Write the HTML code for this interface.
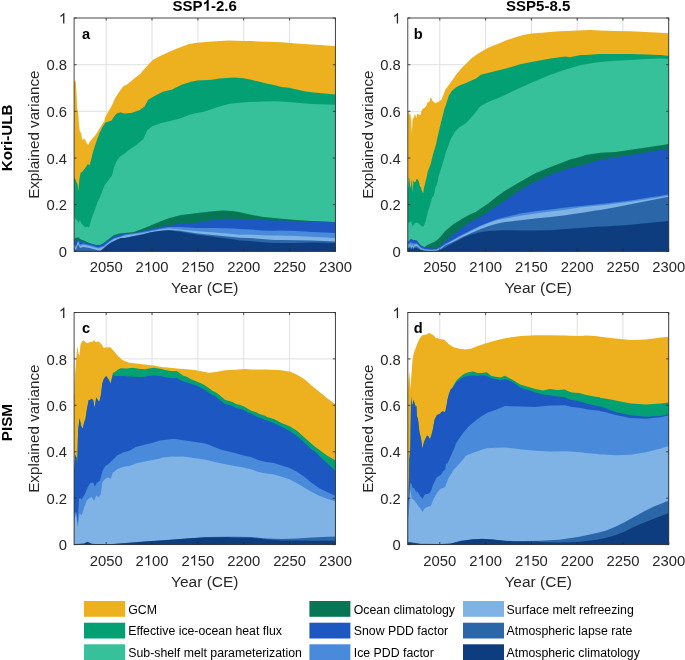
<!DOCTYPE html><html><head><meta charset="utf-8"><style>html,body{margin:0;padding:0;background:#fff;}svg{display:block;will-change:transform;}text{font-family:"Liberation Sans",sans-serif;}</style></head><body>
<svg width="685" height="660" viewBox="0 0 685 660">
<rect width="685" height="660" fill="#fff"/>
<defs>
<path id="one" d="M763 0L583 0L583 1147Q518 1085 412 1023Q306 961 222 930L222 1104Q373 1175 486 1276Q599 1377 646 1472L763 1472Z"/>
<path id="oneb" d="M834 0L553 0L553 1059Q399 915 190 846L190 1101Q300 1137 429 1238Q558 1338 606 1472L834 1472Z"/>
<clipPath id="cpa"><rect x="74.1" y="18.0" width="261.3" height="233.3"/></clipPath>
<clipPath id="cpb"><rect x="407.8" y="18.0" width="260.9" height="233.3"/></clipPath>
<clipPath id="cpc"><rect x="74.1" y="312.5" width="261.3" height="232.1"/></clipPath>
<clipPath id="cpd"><rect x="407.8" y="312.5" width="260.9" height="232.1"/></clipPath>
</defs>
<path d="M106.2 18V251.3M152 18V251.3M197.9 18V251.3M243.7 18V251.3M289.6 18V251.3M335.4 18V251.3M74.1 204.6H335.4M74.1 158H335.4M74.1 111.3H335.4M74.1 64.7H335.4" stroke="#e0e0e0" stroke-width="1" fill="none"/>
<g clip-path="url(#cpa)">
<path d="M73.2 252.3L73.2 82.1L74.2 82.1L75.6 80.3L76.6 94.2L77.1 108.7L78 111.1L79 124.4L79.9 131.7L81.1 132.9L82.3 140.2L84.1 138.3L85.3 140.2L87.1 143.8L88.3 145L89.5 142L92 139L94.4 136.5L96.8 132.9L99.8 128.1L102 124.4L104.3 121.2L105 117.6L108.8 110.8L111.9 105.5L114.9 98.6L118.7 92.6L122.5 87.3L124 85.8L126.3 85L131.3 80.9L136.1 77L140.7 73.6L142.2 71.2L145.2 68.3L149.8 63L152.8 60L160 55.9L174 49.8L181.6 46.8L189.2 44.1L197.5 42.7L211.9 41.5L228.5 40.4L243.7 41L251.2 41L258.8 41.5L266.3 41.8L274 41.9L281.5 42.2L296.6 43.5L311.8 44.5L326.9 45.6L335.6 46L336.6 46L336.6 252.3Z" fill="#EDB120"/>
<path d="M73.2 252.3L73.2 178L74.2 178L75 177.9L76.2 181.5L77.5 183.9L78.3 191.2L79.3 180.3L80.5 173L82.3 171.8L84.1 169.4L85.9 167L87.8 163.9L89.6 165.2L91.4 158.5L93.2 151.2L94.6 146.7L97.1 139.4L99.5 133.3L103.1 126L105.6 122.4L111.6 120.6L113.4 117.6L116.4 113.8L120.2 112.3L124 113.6L131.3 113L139.8 110L144.6 106.4L148.2 99.7L155.5 95.5L162.8 91.8L172.5 89.4L174 88.5L182.2 84.5L191.9 81.5L197.5 80.4L211.9 79.8L219.5 78.6L234.6 77.5L243.6 78.3L251.2 79.8L258.7 81.6L266.3 83.5L273.9 85L281.5 86.9L289 87.7L296.6 89.5L304.2 91.2L311.8 92.2L319.3 93L326.9 93.8L335.6 94.5L336.6 94.5L336.6 252.3Z" fill="#02A072"/>
<path d="M73.2 252.3L73.2 216L74.2 216L75 217.9L76.8 220.3L78.7 222.7L79.9 219.7L81.7 223.9L83.5 225.8L85.3 227.6L87.2 226.4L89 227.6L90.8 221.5L92.6 215.5L95 209.4L97.5 202.1L99.9 197.3L102.3 191.2L104.7 185.2L108.4 180.3L112 175.5L114 167.3L116.5 161.3L120.1 156.4L124 154L128.8 150L136.1 145.2L143.4 139.1L147 130.6L151.9 126.4L160.4 123.3L170.1 120.9L179.8 118.5L189.5 114.8L196.7 113L204 111.8L216.4 107.4L228.5 104.1L239.2 102.8L249.8 102.1L261.9 101.6L274 101.3L281.5 101.6L296.6 102.8L311.8 104.1L326.9 104.4L335.6 104.7L336.6 104.7L336.6 252.3Z" fill="#36C19A"/>
<path d="M73.2 252.3L73.2 239L74.2 239L75.5 238.1L78.1 237.3L80.8 239.5L83.4 240.3L89.5 243L94.8 244.7L100 245L103.5 243L108.8 239L114 235.1L119.3 233.6L125 232.9L133.8 231.9L142.5 228.8L151.3 225.3L160 221.4L168.8 218.3L180 215.3L197.5 212.9L215 211L223.8 210.4L232.6 211.1L240 212.2L249.8 214.4L261.9 216.8L274 217.9L281.5 218.7L296.6 219.9L311.8 221L335.6 222L336.6 222L336.6 252.3Z" fill="#077654"/>
<path d="M73.2 252.3L73.2 241L74.2 241L75.5 240.3L80.8 241.2L89.5 243.8L98.3 245.6L103.5 243.8L108.8 239.9L114 236.4L121 234.6L125 233.6L133.8 232.9L142.5 231L151.3 228.8L160 227.1L168.8 225.3L180 223.8L197.5 222.5L206.3 221.2L215 219.7L223.8 218.8L232.6 218.8L240 219.2L249.8 219.1L261.9 219.9L274 220.5L281.5 220.5L296.6 220.9L311.8 221.4L335.6 222.2L336.6 222.2L336.6 252.3Z" fill="#1D58C2"/>
<path d="M73.2 252.3L73.2 244L74.2 244L75.9 246.5L78.1 240.5L79.9 244.5L83.4 243.5L89.5 245L98.3 247.5L103.5 246L108.8 241.8L114 238.3L121 236.2L125 234.5L142.5 231.9L160 228.4L168.8 227.1L180 226.9L197.5 227.9L215 227.9L232.6 228.5L240 229.1L249.8 229.6L261.9 230.5L274 230.8L281.5 230.5L296.6 231.1L311.8 232L335.6 233.1L336.6 233.1L336.6 252.3Z" fill="#4A8ADA"/>
<path d="M73.2 252.3L73.2 245L74.2 245L75.9 248.6L78.1 241.2L79.9 246L83.4 244.7L89.5 246L98.3 248.5L103.5 246.9L108.8 242.5L114 239L121 236.8L125 235.4L142.5 233L160 229.4L168.8 228.4L180 229.5L197.5 231.3L215 232.6L232.6 233.9L240 234.8L249.8 234.6L261.9 235.3L274 235.6L281.5 235.6L296.6 236.1L311.8 236.8L335.6 238.1L336.6 238.1L336.6 252.3Z" fill="#7FB2E5"/>
<path d="M73.2 252.3L73.2 248L74.2 248L75.9 250L78.1 244L79.9 248L83.4 247L89.5 248L98.3 250.5L101 250.5L103.5 248.3L107 245.3L110.5 242.8L115.8 240L121 237.9L125 237.8L133.8 236.1L142.5 234.3L151.3 232.1L160 230.8L168.8 230.1L180 230.8L197.5 233.5L215 235.2L232.6 237L240 237.8L249.8 238.1L261.9 239.1L274 239.9L281.5 239.9L296.6 240.2L311.8 240.6L335.6 241.4L336.6 241.4L336.6 252.3Z" fill="#2A66A8"/>
<path d="M73.2 252.3L73.2 251.5L74.2 251.5L100 251.5L100.9 250.4L103.5 248.6L107 245.6L110.5 243L115.8 240.3L121 238.1L125 238L133.8 236.3L142.5 234.5L151.3 232.3L160 231L168.8 230.3L180 231.7L197.5 234.8L215 237L232.6 239.2L240 240.5L249.8 241.1L261.9 242.2L274 242.9L281.5 242.9L296.6 242.9L311.8 242.6L335.6 242.9L336.6 242.9L336.6 252.3Z" fill="#0D3D7E"/>
</g>
<path d="M106.2 251.3v-2.6M106.2 18v2.6M152 251.3v-2.6M152 18v2.6M197.9 251.3v-2.6M197.9 18v2.6M243.7 251.3v-2.6M243.7 18v2.6M289.6 251.3v-2.6M289.6 18v2.6M335.4 251.3v-2.6M335.4 18v2.6M74.1 251.3h2.6M335.4 251.3h-2.6M74.1 204.6h2.6M335.4 204.6h-2.6M74.1 158h2.6M335.4 158h-2.6M74.1 111.3h2.6M335.4 111.3h-2.6M74.1 64.7h2.6M335.4 64.7h-2.6M74.1 18h2.6M335.4 18h-2.6" stroke="#262626" stroke-width="0.8" fill="none"/>
<rect x="74.1" y="18.0" width="261.3" height="233.3" fill="none" stroke="#333" stroke-width="0.9"/>
<text x="106.2" y="272.3" font-size="14.8" fill="#262626" text-anchor="middle">2050</text>
<text x="135.57" y="272.3" font-size="14.8" fill="#262626" style="font-kerning:none">2</text><use href="#one" fill="#262626" transform="translate(143.80 272.3) scale(0.00723 -0.00723)"/><text x="152.03" y="272.3" font-size="14.8" fill="#262626" style="font-kerning:none">00</text>
<text x="181.41" y="272.3" font-size="14.8" fill="#262626" style="font-kerning:none">2</text><use href="#one" fill="#262626" transform="translate(189.64 272.3) scale(0.00723 -0.00723)"/><text x="197.87" y="272.3" font-size="14.8" fill="#262626" style="font-kerning:none">50</text>
<text x="243.7" y="272.3" font-size="14.8" fill="#262626" text-anchor="middle">2200</text>
<text x="289.6" y="272.3" font-size="14.8" fill="#262626" text-anchor="middle">2250</text>
<text x="335.4" y="272.3" font-size="14.8" fill="#262626" text-anchor="middle">2300</text>
<text x="67.1" y="256.9" font-size="14.8" fill="#262626" text-anchor="end">0</text>
<text x="67.1" y="210.2" font-size="14.8" fill="#262626" text-anchor="end">0.2</text>
<text x="67.1" y="163.6" font-size="14.8" fill="#262626" text-anchor="end">0.4</text>
<text x="67.1" y="116.9" font-size="14.8" fill="#262626" text-anchor="end">0.6</text>
<text x="67.1" y="70.3" font-size="14.8" fill="#262626" text-anchor="end">0.8</text>
<use href="#one" fill="#262626" transform="translate(58.87 23.6) scale(0.00723 -0.00723)"/>
<text x="204.8" y="293.3" font-size="15.5" fill="#262626" text-anchor="middle">Year (CE)</text>
<text transform="translate(38.8 134.7) rotate(-90)" font-size="15.2" fill="#262626" text-anchor="middle">Explained variance</text>
<text x="82.1" y="38.8" font-size="14.6" font-weight="bold" fill="#000">a</text>
<path d="M439.8 18V251.3M485.6 18V251.3M531.4 18V251.3M577.2 18V251.3M622.9 18V251.3M668.7 18V251.3M407.8 204.6H668.7M407.8 158H668.7M407.8 111.3H668.7M407.8 64.7H668.7" stroke="#e0e0e0" stroke-width="1" fill="none"/>
<g clip-path="url(#cpb)">
<path d="M406.9 252.3L406.9 113L407.9 113L408.8 112.1L409.5 115L410.3 113.6L411.1 120L411.8 133.3L412.5 120L413.3 118.2L414.1 116.5L414.8 113.6L416.4 118.2L417.1 113.5L418.6 114.4L420.2 115.2L421.7 110.6L422.4 108.9L423.9 108.3L424.7 107.4L426.2 106.1L427.7 102.1L429.2 102.3L430.8 96.8L432.3 100.6L435.3 103.3L438.3 101.8L441.4 99.8L445.3 89.8L450.6 82.4L455.9 75L461.2 68.6L466.5 63.3L471.8 58L477.1 54.3L482.4 51.1L487.7 48L493 45.8L498.3 43.7L503.6 41.6L505 40.7L514.1 37.7L523.2 35L531.5 33.5L544.4 32.4L559.5 31.3L577.7 30.4L589.8 30.1L600.3 30.4L615.5 30.9L630.6 31.3L645.8 31.9L660.9 32.7L668.8 33.2L669.8 33.2L669.8 252.3Z" fill="#EDB120"/>
<path d="M406.9 252.3L406.9 185L407.9 185L408.3 187.9L408.8 177.8L409.5 178.8L410.3 188.4L411.1 184.8L411.8 179.3L412.6 192.9L413.3 180L414.1 182.3L415.6 181.8L416.4 179.3L417.1 178.8L418.6 181L420.2 187.1L420.9 186.8L421.4 189.4L422.9 193.2L423.2 192.9L423.9 187.9L424.7 185.3L425.5 181.8L427 175.8L427.7 171.7L428.5 169.7L430.8 163.6L433 154.5L436.1 143.9L439.1 130.3L442.1 118.2L444.4 109.1L445.9 105L447.4 100L448.9 95.5L452 90.7L456.5 86.9L461.1 84.7L465.6 83.2L470.2 80.9L476.2 78.6L480.8 74.8L486.8 73.3L492.9 71.8L498.9 70.3L505 68.8L520.2 64.2L535.3 61.2L550.5 58.6L565.6 56.6L570 57.2L580.8 55L585.2 55.1L600.3 54.1L615.5 54.1L630.6 54.1L645.8 54.4L660.9 55.1L668.8 55.9L669.8 55.9L669.8 252.3Z" fill="#02A072"/>
<path d="M406.9 252.3L406.9 222L407.9 222L408.8 223.2L411.1 220.9L412.6 226.2L414.8 223.2L417.1 222.5L420.2 224.7L423.2 227L425.5 221.7L427.7 212.6L430 205L432.3 197L433.8 195.9L435.3 188L437.6 182.3L438.3 177.3L441.4 167.5L444.4 157.6L445.9 152L447.4 148.5L450.5 139.4L455 131.8L459.5 127.3L465.6 123.5L473.2 115.2L479.2 107.4L480.8 106L486.8 102.8L492.9 100L495.9 99.1L505 95L520.2 87.7L535.3 80.9L550.5 74.8L565.6 69.5L580.8 65L595.9 62.4L605 61.6L615.5 60.7L630.6 60.1L645.8 58.9L660.9 58.6L668.8 58.9L669.8 58.9L669.8 252.3Z" fill="#36C19A"/>
<path d="M406.9 252.3L406.9 241.5L407.9 241.5L409 241.3L410.8 239.1L412.3 239.8L414.5 240.2L416.7 240.5L418.5 242.7L420.3 244.9L422.5 246.4L424.7 247.1L426.9 245.3L430.5 243.5L434.2 242L437.8 239.5L441.5 235.4L445 231.2L448.8 228.1L453.8 223.9L462.5 218.6L471.3 213.8L475.7 212.1L480 209L488.8 202.9L497.6 195.9L505 190.7L520.2 181.7L535.3 173.3L550.5 167L565.6 161.2L570 159.5L580.8 156.7L585.2 155L600.3 152.7L615.5 152L630.6 149.7L645.8 147.4L660.9 145.2L668.8 143.9L669.8 143.9L669.8 252.3Z" fill="#077654"/>
<path d="M406.9 252.3L406.9 241.5L407.9 241.5L409 241.3L410.8 239.1L412.3 239.8L414.5 240.2L416.7 240.5L418.5 242.7L420.3 244.9L422.5 246.4L424.7 247.3L430 248.2L435.7 248.6L440 246L445 241.4L448.8 238L453.8 234L462.5 227.4L471.3 221.3L480 217.3L488.8 211.6L497.6 205.5L505 200.5L520.2 190L535.3 181.7L550.5 174.8L565.6 169.2L570 168.3L580.8 165.5L585.2 164.3L595.9 161L600.3 159.8L615.5 157.3L630.6 155L645.8 152.4L660.9 149.7L668.8 148.2L669.8 148.2L669.8 252.3Z" fill="#1D58C2"/>
<path d="M406.9 252.3L406.9 243L407.9 243L409 243.5L410.8 242L412.3 243L414.5 243.5L416.7 243.2L418.5 245L420.3 247L422.5 248.3L424.7 249L430 249.5L435.7 249.6L440 247.5L445 244L453.8 239.2L462.5 234.4L471.3 230L480 225.7L488.8 222.2L497.6 219.1L505 217.3L520.2 213.5L535.3 211.2L550.5 209.4L565.6 207.4L580.8 205.9L595.9 204.4L605 203.6L615.5 202.3L630.6 200.4L645.8 198.1L660.9 195.8L668.8 194.3L669.8 194.3L669.8 252.3Z" fill="#4A8ADA"/>
<path d="M406.9 252.3L406.9 244L407.9 244L409 246L410 243L411 247L412.3 244L413.5 247L414.5 244.5L416.7 244.2L418.5 246L420.3 247.8L422.5 249L424.7 249.6L430 250L435.7 250.2L440 248.3L445 244.9L453.8 240.1L462.5 235.3L471.3 230.9L480 226.6L488.8 223L497.6 220L505 218.6L520.2 215.8L535.3 213.5L550.5 211.5L565.6 209.7L580.8 207.2L595.9 205.7L605 204.9L615.5 203.6L630.6 201.7L645.8 199.4L660.9 197.1L668.8 195.6L669.8 195.6L669.8 252.3Z" fill="#7FB2E5"/>
<path d="M406.9 252.3L406.9 247L407.9 247L409 248L410 245.5L411 249L412.3 246.5L413.5 248.5L414.5 246.5L416.7 246.3L418.5 247.5L420.3 249L422.5 250L424.7 250.5L430 251L435.7 251L440 249.5L445 245.4L453.8 241.4L462.5 237L471.3 233.1L480 229.2L488.8 226.1L497.6 223.5L505 222L520.2 220.3L535.3 218.5L550.5 217L565.6 215.2L570 214.6L580.8 213L585.2 212.3L595.9 210.6L600.3 209.9L615.5 207.3L630.6 204.2L645.8 201.2L660.9 198.2L668.8 196.7L669.8 196.7L669.8 252.3Z" fill="#2A66A8"/>
<path d="M406.9 252.3L406.9 248L407.9 248L409 249L410 247L411 250L412.3 248L413.5 249.5L414.5 248L416.7 248L418.5 249L420.3 250L424.7 251L436 251.2L440 250.3L445 247.5L449.4 245L453.8 242.7L462.5 237.9L471.3 234.4L480 232.2L488.8 230.9L497.6 230.5L505 230.2L520.2 230.6L535.3 230.6L550.5 230.2L565.6 229.1L580.8 227.9L595.9 226.7L605 226.4L630.6 224.7L660.9 221.7L668.8 220.9L669.8 220.9L669.8 252.3Z" fill="#0D3D7E"/>
</g>
<path d="M439.8 251.3v-2.6M439.8 18v2.6M485.6 251.3v-2.6M485.6 18v2.6M531.4 251.3v-2.6M531.4 18v2.6M577.2 251.3v-2.6M577.2 18v2.6M622.9 251.3v-2.6M622.9 18v2.6M668.7 251.3v-2.6M668.7 18v2.6M407.8 251.3h2.6M668.7 251.3h-2.6M407.8 204.6h2.6M668.7 204.6h-2.6M407.8 158h2.6M668.7 158h-2.6M407.8 111.3h2.6M668.7 111.3h-2.6M407.8 64.7h2.6M668.7 64.7h-2.6M407.8 18h2.6M668.7 18h-2.6" stroke="#262626" stroke-width="0.8" fill="none"/>
<rect x="407.8" y="18.0" width="260.9" height="233.3" fill="none" stroke="#333" stroke-width="0.9"/>
<text x="439.8" y="272.3" font-size="14.8" fill="#262626" text-anchor="middle">2050</text>
<text x="469.15" y="272.3" font-size="14.8" fill="#262626" style="font-kerning:none">2</text><use href="#one" fill="#262626" transform="translate(477.38 272.3) scale(0.00723 -0.00723)"/><text x="485.61" y="272.3" font-size="14.8" fill="#262626" style="font-kerning:none">00</text>
<text x="514.92" y="272.3" font-size="14.8" fill="#262626" style="font-kerning:none">2</text><use href="#one" fill="#262626" transform="translate(523.15 272.3) scale(0.00723 -0.00723)"/><text x="531.38" y="272.3" font-size="14.8" fill="#262626" style="font-kerning:none">50</text>
<text x="577.2" y="272.3" font-size="14.8" fill="#262626" text-anchor="middle">2200</text>
<text x="622.9" y="272.3" font-size="14.8" fill="#262626" text-anchor="middle">2250</text>
<text x="668.7" y="272.3" font-size="14.8" fill="#262626" text-anchor="middle">2300</text>
<text x="400.8" y="256.9" font-size="14.8" fill="#262626" text-anchor="end">0</text>
<text x="400.8" y="210.2" font-size="14.8" fill="#262626" text-anchor="end">0.2</text>
<text x="400.8" y="163.6" font-size="14.8" fill="#262626" text-anchor="end">0.4</text>
<text x="400.8" y="116.9" font-size="14.8" fill="#262626" text-anchor="end">0.6</text>
<text x="400.8" y="70.3" font-size="14.8" fill="#262626" text-anchor="end">0.8</text>
<use href="#one" fill="#262626" transform="translate(392.57 23.6) scale(0.00723 -0.00723)"/>
<text x="538.2" y="293.3" font-size="15.5" fill="#262626" text-anchor="middle">Year (CE)</text>
<text transform="translate(372.5 134.7) rotate(-90)" font-size="15.2" fill="#262626" text-anchor="middle">Explained variance</text>
<text x="413.8" y="38.8" font-size="14.6" font-weight="bold" fill="#000">b</text>
<path d="M106.2 312.5V544.6M152 312.5V544.6M197.9 312.5V544.6M243.7 312.5V544.6M289.6 312.5V544.6M335.4 312.5V544.6M74.1 498.2H335.4M74.1 451.8H335.4M74.1 405.3H335.4M74.1 358.9H335.4" stroke="#e0e0e0" stroke-width="1" fill="none"/>
<g clip-path="url(#cpc)">
<path d="M73.2 545.6L73.2 395L74.2 395L74.7 380.8L75.6 366.3L76.6 354.2L77.4 346.3L78.7 354.2L79.5 356L80.5 344.5L81.7 342.1L83.5 340.3L85.3 342.1L87.1 343.3L90.1 342.1L93.2 341.5L93.8 339.7L95.6 342.1L98.6 341.5L99.3 342L101.5 344.2L103.8 348L106.8 347.3L110.6 347.6L113.7 351.1L117.5 355.6L122 359.7L128.1 362.4L135.6 363.6L144.7 364.4L153.8 365.5L162.9 367.3L165 367.3L172.3 368L179.6 368.8L186.9 369.3L194.2 370.1L201.5 371.3L208.8 372.8L212.4 372.4L215 372L217.5 371.7L225 370.2L235.6 369.7L244.7 369.1L251.2 369.4L256.8 369.4L266.3 369.4L272 369.7L281.5 370.3L290.5 371.8L296.6 374.4L304.2 378.9L311.8 385.8L319.3 391.8L326.9 397.9L335.6 404.5L336.6 404.5L336.6 545.6Z" fill="#EDB120"/>
<path d="M73.2 545.6L73.2 470L74.2 470L75.3 454.5L76.5 457.6L77.3 463.6L78.1 430.3L79.6 418.2L81.1 425.8L82.6 428.8L84.1 422.7L85.6 418.5L86.4 412.1L87.2 407.9L88.7 400L89.4 400.3L91.7 398.8L93.2 400.3L94.7 407.9L96.2 397.3L97.8 400.3L99.3 401.8L100.8 395.8L102.3 383.6L103.8 379.1L106.1 376.1L108.4 379.1L110.6 383.6L112.9 373L114.4 372.3L117.5 370L120.5 368.2L126.5 368.5L132.6 367.7L138.7 368.8L144.7 369.2L153.8 367.7L162.9 369.2L165 369.9L172.3 371.3L176.7 370.9L179.6 373.1L183.2 375.7L186.9 376.8L190.5 379L194.2 380.4L197.8 381.9L201.5 383.4L205.1 385.5L208.8 388.1L212.4 390.7L215 392.1L217.5 393.6L225 399.7L232.6 402L236 403.9L240.2 405L243.6 406.2L247.8 408.8L251.2 410.8L256.8 412.6L258.7 413.8L265.9 416.1L266.3 416.8L273.9 419.1L281.5 422.9L289 425.9L296.6 430.5L304.2 437.3L311.8 444.1L314.8 446.5L320.8 451.1L326.9 455.6L335.6 460.5L336.6 460.5L336.6 545.6Z" fill="#02A072"/>
<path d="M73.2 545.6L73.2 470L74.2 470L75.3 454.5L76.5 457.6L77.3 463.6L78.1 430.3L79.6 418.2L81.1 425.8L82.6 428.8L84.1 422.7L85.6 418.5L86.4 412.1L87.2 407.9L88.7 400L89.4 400.3L91.7 398.8L93.2 400.3L94.7 407.9L96.2 397.3L97.8 400.3L99.3 401.8L100.8 395.8L102.3 383.6L103.8 379.1L106.1 376.1L108.4 379.1L110.6 383.6L112.9 375L114.4 376L117.5 376L123.5 376L132.6 376.8L141.7 377.3L153.8 375.3L162.9 376.4L165 377.2L172.3 378.2L176.7 377.9L179.6 379.7L183.2 381.5L186.9 382.3L190.5 383.7L194.2 384.8L197.8 386.3L201.5 387.7L205.1 389.9L208.8 392.8L212.4 395L215 396.1L217.5 398.2L225 403.9L232.6 405.8L236 408.2L240.2 408.8L243.6 410L247.8 412.6L251.2 413.8L256.8 416.7L258.7 417.3L265.9 420.2L266.3 420.3L273.9 422.9L281.5 426.7L289 430.5L296.6 435.8L304.2 442.6L311.8 449.4L314.8 451.5L320.8 457.5L326.9 463L335.6 471L336.6 471L336.6 545.6Z" fill="#1D58C2"/>
<path d="M73.2 545.6L73.2 512L74.2 512L75.1 512.8L76.4 512L77 520L77.3 526L77.7 518L78.2 512.8L79 498.8L80.3 497.9L81.7 499.7L83 497L84.3 495.3L85.6 492.6L86.5 490L87.9 487L90.2 483L92.5 482.6L93.2 482.6L94.7 486.4L97 482.6L97.8 482.6L100 480.3L102.3 471.2L105.3 465.9L109.1 463.6L112.9 459.8L117.5 455.3L123.5 452.3L129.6 450.8L135.6 447L144.7 444.7L153.8 442.4L160 440.5L172 439.1L175.2 438.9L190.3 441.2L205.5 443.5L220.6 449.5L235.8 453.3L243.6 455.6L250.9 457.1L258.7 460.2L266.3 462L273.9 462.9L281.5 465.5L289 467.7L296.6 471.5L304.2 476.8L311.8 482.9L319.3 488.2L326.9 492L335.6 496L336.6 496L336.6 545.6Z" fill="#4A8ADA"/>
<path d="M73.2 545.6L73.2 520L74.2 520L76.2 513.6L77.8 527.3L79.6 513.6L81.8 515.2L84.1 507.6L86.4 501.5L88.7 498.5L91.7 497L94 500.8L96.2 495.5L98.5 497L100.8 493.9L102.3 482.6L103.8 480.3L105.3 478.8L108.4 477.3L110.6 478.8L112.9 472.7L117.5 468.9L123.5 466.7L129.6 465.9L135.6 463.6L144.7 461.4L153.8 459.8L160 458.6L162.9 457.6L172 456.4L175.2 456.7L182.7 456.4L190.3 457.6L205.5 459.7L220.6 463.2L235.8 466.2L243.6 467.4L250.9 469.2L258.7 472L266.3 473.5L273.9 474.5L281.5 476.8L289 479.1L296.6 482.9L304.2 487.4L311.8 492L319.3 495.8L326.9 498.8L335.6 501.6L336.6 501.6L336.6 545.6Z" fill="#7FB2E5"/>
<path d="M73.2 545.6L73.2 544L74.2 544L84 543.5L87.2 541.8L92 543.8L106.6 544.4L121.9 543.3L143.8 541.5L165.7 540L187.6 538.4L205.1 537.1L227 536.7L236 536.7L251.2 537.1L266.3 538.4L281.5 539L296.6 538.5L311.8 537.6L335.6 536.6L336.6 536.6L336.6 545.6Z" fill="#2A66A8"/>
<path d="M73.2 545.6L73.2 544.2L74.2 544.2L84 543.7L87.2 542L92 544L106.6 544.6L121.9 543.5L143.8 541.7L165.7 540.2L187.6 538.6L205.1 537.4L227 537.2L236 537.7L251.2 537.7L266.3 539.2L281.5 540.5L296.6 540.5L311.8 540.8L335.6 540.8L336.6 540.8L336.6 545.6Z" fill="#0D3D7E"/>
</g>
<path d="M106.2 544.6v-2.6M106.2 312.5v2.6M152 544.6v-2.6M152 312.5v2.6M197.9 544.6v-2.6M197.9 312.5v2.6M243.7 544.6v-2.6M243.7 312.5v2.6M289.6 544.6v-2.6M289.6 312.5v2.6M335.4 544.6v-2.6M335.4 312.5v2.6M74.1 544.6h2.6M335.4 544.6h-2.6M74.1 498.2h2.6M335.4 498.2h-2.6M74.1 451.8h2.6M335.4 451.8h-2.6M74.1 405.3h2.6M335.4 405.3h-2.6M74.1 358.9h2.6M335.4 358.9h-2.6M74.1 312.5h2.6M335.4 312.5h-2.6" stroke="#262626" stroke-width="0.8" fill="none"/>
<rect x="74.1" y="312.5" width="261.3" height="232.1" fill="none" stroke="#333" stroke-width="0.9"/>
<text x="106.2" y="565.6" font-size="14.8" fill="#262626" text-anchor="middle">2050</text>
<text x="135.57" y="565.6" font-size="14.8" fill="#262626" style="font-kerning:none">2</text><use href="#one" fill="#262626" transform="translate(143.80 565.6) scale(0.00723 -0.00723)"/><text x="152.03" y="565.6" font-size="14.8" fill="#262626" style="font-kerning:none">00</text>
<text x="181.41" y="565.6" font-size="14.8" fill="#262626" style="font-kerning:none">2</text><use href="#one" fill="#262626" transform="translate(189.64 565.6) scale(0.00723 -0.00723)"/><text x="197.87" y="565.6" font-size="14.8" fill="#262626" style="font-kerning:none">50</text>
<text x="243.7" y="565.6" font-size="14.8" fill="#262626" text-anchor="middle">2200</text>
<text x="289.6" y="565.6" font-size="14.8" fill="#262626" text-anchor="middle">2250</text>
<text x="335.4" y="565.6" font-size="14.8" fill="#262626" text-anchor="middle">2300</text>
<text x="67.1" y="550.2" font-size="14.8" fill="#262626" text-anchor="end">0</text>
<text x="67.1" y="503.8" font-size="14.8" fill="#262626" text-anchor="end">0.2</text>
<text x="67.1" y="457.4" font-size="14.8" fill="#262626" text-anchor="end">0.4</text>
<text x="67.1" y="410.9" font-size="14.8" fill="#262626" text-anchor="end">0.6</text>
<text x="67.1" y="364.5" font-size="14.8" fill="#262626" text-anchor="end">0.8</text>
<use href="#one" fill="#262626" transform="translate(58.87 318.1) scale(0.00723 -0.00723)"/>
<text x="204.8" y="586.6" font-size="15.5" fill="#262626" text-anchor="middle">Year (CE)</text>
<text transform="translate(38.8 428.6) rotate(-90)" font-size="15.2" fill="#262626" text-anchor="middle">Explained variance</text>
<text x="82.1" y="333.3" font-size="14.6" font-weight="bold" fill="#000">c</text>
<path d="M439.8 312.5V544.6M485.6 312.5V544.6M531.4 312.5V544.6M577.2 312.5V544.6M622.9 312.5V544.6M668.7 312.5V544.6M407.8 498.2H668.7M407.8 451.8H668.7M407.8 405.3H668.7M407.8 358.9H668.7" stroke="#e0e0e0" stroke-width="1" fill="none"/>
<g clip-path="url(#cpd)">
<path d="M406.9 545.6L406.9 392L407.9 392L408.4 380.8L409.2 371.1L409.8 378.4L410.4 389.3L411 380.8L411.7 371.1L412.5 360.2L413.5 354.2L414.7 350.6L416.5 345.7L418.3 340.9L420.1 337.9L421.9 335.4L424.4 334.8L426.8 334.2L429.2 333L431.6 334.2L434 335.4L435.3 337.5L439.8 338.9L444.4 339.7L448.9 344.2L453.5 347.3L459.5 348.8L465.6 349.5L471.7 348.5L477.7 346.1L485.3 343.5L492.9 341.2L498.9 339.7L505 338.3L520.2 335.9L535.3 335.2L550.5 335.2L565.6 335.6L570 335.8L580.8 335.9L585.2 335.6L595.9 336L600.3 336.7L615.5 338.5L630.6 340L645.8 339.4L660.9 337.4L668.8 336.7L669.8 336.7L669.8 545.6Z" fill="#EDB120"/>
<path d="M406.9 545.6L406.9 500L407.9 500L408.6 498L409.3 460L410.3 450L411.1 396L411.8 404L412.6 404.8L413.3 400L414.1 401.8L415.6 406.4L416.4 406.1L417.1 417L417.9 418.2L419.4 431.8L420.9 437.9L422.4 448.5L423.9 442.4L425.5 438.6L427 435.6L428.5 436.4L430 439.4L431.5 434.8L433 428.8L434.5 419.7L435.3 418L436.8 415.3L439.8 413.7L442.1 411.5L443 411.6L445.2 411.9L446.7 404.8L447.4 400L448.9 394.2L450.5 389.7L452 388.2L453.5 385.2L456.5 380.6L459.5 377.6L464.1 373.8L468.6 372.3L473.2 371.5L477.7 373L482.3 373L486.8 372.3L491.4 376.1L495.9 376.8L500.5 377.6L505 375.8L512.6 379.8L520.2 384.4L527.7 386.7L535.3 388.9L542.9 390.5L550 389.1L557.3 389.9L564.6 389.5L568.2 391.3L571.9 392.4L579.2 393.1L586.5 395L593.8 396.4L600 397.2L600.3 398L605 398.5L615.5 400.5L630.6 403.5L645.8 404.5L660.9 403.4L668.8 402.6L669.8 402.6L669.8 545.6Z" fill="#02A072"/>
<path d="M406.9 545.6L406.9 500L407.9 500L408.6 498L409.3 460L410.3 450L411.1 396L411.8 404L412.6 404.8L413.3 400L414.1 401.8L415.6 406.4L416.4 406.1L417.1 417L417.9 418.2L419.4 431.8L420.9 437.9L422.4 448.5L423.9 442.4L425.5 438.6L427 435.6L428.5 436.4L430 439.4L431.5 434.8L433 428.8L434.5 419.7L435.3 418L436.8 415.3L439.8 413.7L442.1 411.5L443 411.6L445.2 411.9L446.7 404.8L447.4 400L448.9 394.2L450.5 389.7L452 388.2L453.5 387L456.5 382.1L459.5 379.8L464.1 376.8L468.6 376.1L473.2 375.3L477.7 376.1L482.3 375.3L486.8 376.1L491.4 378.3L495.9 379.1L500.5 380.6L505 379.1L512.6 382.1L520.2 387.4L527.7 390L535.3 392.4L542.9 394.5L550 395.3L557.3 396.4L564.6 397.2L568.2 399L571.9 400.1L579.2 401.2L586.5 403.4L593.8 405.2L600 406.6L600.3 406.6L605 407.9L615.5 412L630.6 415.3L645.8 416.8L660.9 415.8L668.8 414.3L669.8 414.3L669.8 545.6Z" fill="#1D58C2"/>
<path d="M406.9 545.6L406.9 505L407.9 505L408.8 500L409.5 490.9L410.3 482.6L411.1 483.3L411.8 484.8L412.6 487.9L414.1 487.9L416.4 492.4L417.1 490.9L420.2 496L422.4 499L424.7 494.7L426.2 493.9L427.7 493.9L429.2 493.2L430.8 490.9L431.5 489.4L433 484.8L435.3 480.3L436.8 477.3L438.3 476.5L441.4 474.2L442.9 471.2L445.2 469.7L445.9 463.6L447.4 463.6L450.5 456.8L453.5 450L456.5 442.4L459.5 437.9L464.1 431.8L468.6 426.5L474.7 421.2L480.8 416.7L486.8 412.9L495.9 409.8L505 406.1L520.2 406.5L535.3 407L550 405.5L557.3 405.5L564.6 405.2L571.9 407L579.2 407.7L586.5 409.2L593.8 410.3L600 410.7L600.3 411.2L605 412L615.5 415L630.6 418L645.8 418.7L660.9 417.2L668.8 415.3L669.8 415.3L669.8 545.6Z" fill="#4A8ADA"/>
<path d="M406.9 545.6L406.9 520L407.9 520L408.8 513.6L410.3 489.4L411.8 498.5L414.1 500L417.1 504.5L420.2 508.3L422.4 512.1L424.7 508.3L427.7 506.8L430.8 506.1L433.8 498.5L436.8 493.2L439.8 489.4L441.4 488.6L442.9 487.9L445.2 487.1L445.9 484.8L448.9 477.3L452 472.7L453.5 469.7L456.5 466.7L458 465.2L459.5 463.6L464.1 458.3L465.6 456.1L468.6 454.5L474.7 452.3L480.8 450L486.8 448.2L495.9 447.7L505 447.5L520.2 449.2L535.3 450.8L550.5 451.5L565.6 451.2L570 451.5L580.8 452.3L585.2 453L595.9 453.8L600.3 454.5L605 454.6L615.5 455.3L630.6 454.8L645.8 452.3L660.9 448.5L668.8 446L669.8 446L669.8 545.6Z" fill="#7FB2E5"/>
<path d="M406.9 545.6L406.9 542.2L407.9 542.2L409.5 542L420.2 543.7L440 544L450.5 543.5L461 540.8L471.5 539.4L482 538.7L492.6 539.4L503.1 540.5L513.6 541.1L524 541L540 540.8L559 539.7L578 536.9L596.9 533.1L606.4 530.6L615.9 526.4L625.4 521.7L634.9 516.6L644.4 511.2L653.9 506.5L663.4 502.7L668.8 500.6L669.8 500.6L669.8 545.6Z" fill="#2A66A8"/>
<path d="M406.9 545.6L406.9 542.4L407.9 542.4L409.5 542.4L420.2 543.9L440 544.2L450.5 543.7L461 541L471.5 539.6L482 538.9L492.6 539.6L503.1 540.7L513.6 541.4L534.6 541.6L545 542.3L560 542.5L578 542L596.9 539.7L606.4 537.8L615.9 535L625.4 531.2L634.9 526.4L644.4 522.6L653.9 518.8L663.4 515L668.8 513.3L669.8 513.3L669.8 545.6Z" fill="#0D3D7E"/>
</g>
<path d="M439.8 544.6v-2.6M439.8 312.5v2.6M485.6 544.6v-2.6M485.6 312.5v2.6M531.4 544.6v-2.6M531.4 312.5v2.6M577.2 544.6v-2.6M577.2 312.5v2.6M622.9 544.6v-2.6M622.9 312.5v2.6M668.7 544.6v-2.6M668.7 312.5v2.6M407.8 544.6h2.6M668.7 544.6h-2.6M407.8 498.2h2.6M668.7 498.2h-2.6M407.8 451.8h2.6M668.7 451.8h-2.6M407.8 405.3h2.6M668.7 405.3h-2.6M407.8 358.9h2.6M668.7 358.9h-2.6M407.8 312.5h2.6M668.7 312.5h-2.6" stroke="#262626" stroke-width="0.8" fill="none"/>
<rect x="407.8" y="312.5" width="260.9" height="232.1" fill="none" stroke="#333" stroke-width="0.9"/>
<text x="439.8" y="565.6" font-size="14.8" fill="#262626" text-anchor="middle">2050</text>
<text x="469.15" y="565.6" font-size="14.8" fill="#262626" style="font-kerning:none">2</text><use href="#one" fill="#262626" transform="translate(477.38 565.6) scale(0.00723 -0.00723)"/><text x="485.61" y="565.6" font-size="14.8" fill="#262626" style="font-kerning:none">00</text>
<text x="514.92" y="565.6" font-size="14.8" fill="#262626" style="font-kerning:none">2</text><use href="#one" fill="#262626" transform="translate(523.15 565.6) scale(0.00723 -0.00723)"/><text x="531.38" y="565.6" font-size="14.8" fill="#262626" style="font-kerning:none">50</text>
<text x="577.2" y="565.6" font-size="14.8" fill="#262626" text-anchor="middle">2200</text>
<text x="622.9" y="565.6" font-size="14.8" fill="#262626" text-anchor="middle">2250</text>
<text x="668.7" y="565.6" font-size="14.8" fill="#262626" text-anchor="middle">2300</text>
<text x="400.8" y="550.2" font-size="14.8" fill="#262626" text-anchor="end">0</text>
<text x="400.8" y="503.8" font-size="14.8" fill="#262626" text-anchor="end">0.2</text>
<text x="400.8" y="457.4" font-size="14.8" fill="#262626" text-anchor="end">0.4</text>
<text x="400.8" y="410.9" font-size="14.8" fill="#262626" text-anchor="end">0.6</text>
<text x="400.8" y="364.5" font-size="14.8" fill="#262626" text-anchor="end">0.8</text>
<use href="#one" fill="#262626" transform="translate(392.57 318.1) scale(0.00723 -0.00723)"/>
<text x="538.2" y="586.6" font-size="15.5" fill="#262626" text-anchor="middle">Year (CE)</text>
<text transform="translate(372.5 428.6) rotate(-90)" font-size="15.2" fill="#262626" text-anchor="middle">Explained variance</text>
<text x="413.8" y="333.3" font-size="14.6" font-weight="bold" fill="#000">d</text>
<text x="172.60" y="10.8" font-size="15" font-weight="bold" fill="#000" style="font-kerning:none">SSP</text><use href="#oneb" fill="#000" transform="translate(202.61 10.8) scale(0.00732 -0.00732)"/><text x="210.95" y="10.8" font-size="15" font-weight="bold" fill="#000" style="font-kerning:none">-2.6</text>
<text x="538.2" y="10.8" font-size="15" font-weight="bold" fill="#000" text-anchor="middle">SSP5-8.5</text>
<text transform="translate(12.1 137.8) rotate(-90)" font-size="15.2" font-weight="bold" fill="#000" text-anchor="middle">Kori-ULB</text>
<text transform="translate(12.1 422.6) rotate(-90)" font-size="15.2" font-weight="bold" fill="#000" text-anchor="middle">PISM</text>
<rect x="84.0" y="601.0" width="41.2" height="15.8" fill="#EDB120"/>
<text x="128.3" y="613.5" font-size="12.3" fill="#000">GCM</text>
<rect x="84.0" y="622.7" width="41.2" height="15.8" fill="#02A072"/>
<text x="128.3" y="635.2" font-size="12.3" fill="#000">Effective ice-ocean heat flux</text>
<rect x="84.0" y="644.3" width="41.2" height="15.8" fill="#36C19A"/>
<text x="128.3" y="656.8" font-size="12.3" fill="#000">Sub-shelf melt parameterization</text>
<rect x="309.4" y="601.0" width="41.0" height="15.8" fill="#077654"/>
<text x="353.8" y="613.5" font-size="12.3" fill="#000">Ocean climatology</text>
<rect x="309.4" y="622.7" width="41.0" height="15.8" fill="#1D58C2"/>
<text x="353.8" y="635.2" font-size="12.3" fill="#000">Snow PDD factor</text>
<rect x="309.4" y="644.3" width="41.0" height="15.8" fill="#4A8ADA"/>
<text x="353.8" y="656.8" font-size="12.3" fill="#000">Ice PDD factor</text>
<rect x="463.0" y="601.0" width="41.0" height="15.8" fill="#7FB2E5"/>
<text x="506.6" y="613.5" font-size="12.3" fill="#000">Surface melt refreezing</text>
<rect x="463.0" y="622.7" width="41.0" height="15.8" fill="#2A66A8"/>
<text x="506.6" y="635.2" font-size="12.3" fill="#000">Atmospheric lapse rate</text>
<rect x="463.0" y="644.3" width="41.0" height="15.8" fill="#0D3D7E"/>
<text x="506.6" y="656.8" font-size="12.3" fill="#000">Atmospheric climatology</text>
</svg></body></html>
